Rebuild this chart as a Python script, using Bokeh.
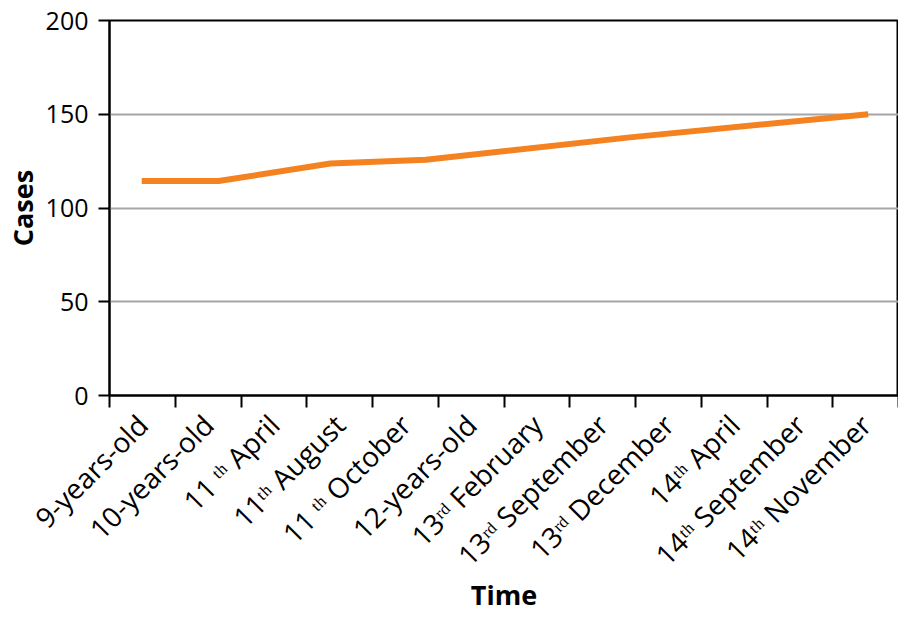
from bokeh.plotting import figure
from bokeh.models import FixedTicker, Range1d, CustomJSTickFormatter
from bokeh.embed import file_html
from bokeh.resources import INLINE
from math import pi

categories = ["9-years-old", "10-years-old", "11 ᵗʰ April", "11ᵗʰ August",
              "11 ᵗʰ October", "12-years-old", "13ʳᵈ February", "13ʳᵈ September",
              "13ʳᵈ December", "14ᵗʰ April", "14ᵗʰ September", "14ᵗʰ November"]
time_pos = [0.49, 1.66, 3.36, 4.81, 7.95, 11.54]
cases = [114.4, 114.4, 123.7, 125.7, 137.8, 150.0]
y_ticks = [0, 50, 100, 150, 200]
grid_ticks = [50, 100, 150]

FONT = "Open Sans"

p = figure(width=898, height=615, output_backend="svg", toolbar_location=None,
           x_range=Range1d(0, len(categories)), y_range=Range1d(0, 200),
           min_border_left=80, min_border_right=0, min_border_top=20, min_border_bottom=0)

p.line(time_pos, cases, line_color="#F58220", line_width=6)

p.outline_line_color = "black"
p.outline_line_width = 2

# x axis
p.xaxis.ticker = FixedTicker(ticks=[i + 0.5 for i in range(len(categories))],
                             minor_ticks=list(range(len(categories) + 1)))
p.xaxis.formatter = CustomJSTickFormatter(args=dict(cats=categories),
                                          code="return cats[Math.floor(tick)];")
p.xaxis.major_label_orientation = pi / 4
p.xaxis.major_tick_out = 0
p.xaxis.major_tick_in = 0
p.xaxis.minor_tick_out = 12
p.xaxis.minor_tick_in = 0
p.xaxis.minor_tick_line_color = "black"
p.xaxis.minor_tick_line_width = 2
p.xaxis.major_label_standoff = 12
p.xaxis.axis_label = "Time"

# y axis
p.yaxis.ticker = FixedTicker(ticks=y_ticks)
p.yaxis.major_tick_out = 11
p.yaxis.major_tick_in = 0
p.yaxis.minor_tick_line_color = None
p.yaxis.major_label_standoff = 10
p.yaxis.axis_label = "Cases"

for ax in (p.xaxis, p.yaxis):
    ax.axis_line_color = "black"
    ax.axis_line_width = 2
    ax.major_tick_line_color = "black"
    ax.major_tick_line_width = 2
    ax.major_label_text_font = FONT
    ax.major_label_text_color = "black"
    ax.axis_label_text_font = FONT
    ax.axis_label_text_font_size = "27px"
    ax.axis_label_text_font_style = "bold"
    ax.axis_label_text_color = "black"

p.xaxis.major_label_text_font_size = "28px"
p.yaxis.major_label_text_font_size = "25px"
p.xaxis.axis_label_standoff = -14
p.yaxis.axis_label_standoff = 2

p.xgrid.grid_line_color = None
p.ygrid.ticker = FixedTicker(ticks=grid_ticks)
p.ygrid.grid_line_color = "#a6a6a6"
p.ygrid.grid_line_width = 2

open("out.html", "w").write(file_html(p, INLINE))
